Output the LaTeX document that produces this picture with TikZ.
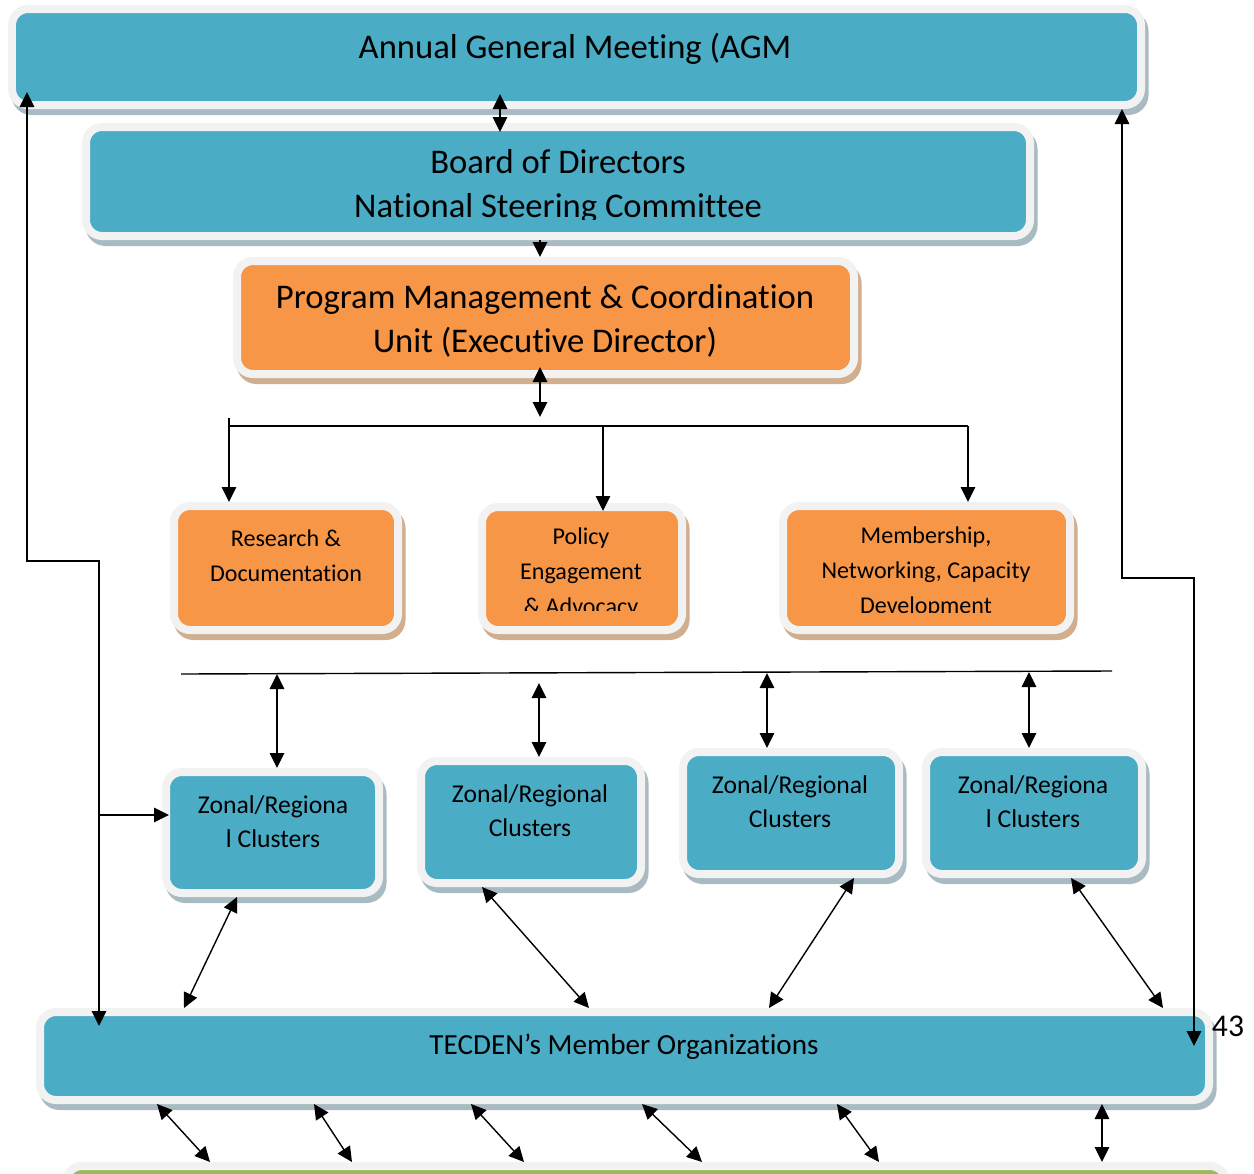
\documentclass[tikz,border=0pt]{standalone}
\usepackage{fontspec}
\setmainfont{Carlito}[Ligatures=NoCommon]
\usepackage{xcolor}
\usepackage{tikz}
\definecolor{orgBlue}{HTML}{4BACC6}
\definecolor{orgOrange}{HTML}{F79646}
\definecolor{orgGreen}{HTML}{9BBB59}
\definecolor{orgRim}{HTML}{F2F2F2}
\definecolor{orgShadeBlue}{HTML}{A9BBC2}
\definecolor{orgShadeOrange}{HTML}{D1AE90}
\usetikzlibrary{arrows.meta,calc}

\begin{document}
\begin{tikzpicture}[
  panel/.style={draw=orgRim, line width=0.16cm, rounded corners=0.32cm, inner sep=0pt},
  bluebox/.style={panel, fill=orgBlue, preaction={draw=orgShadeBlue, fill=orgShadeBlue, line width=0.16cm, transform canvas={shift={(0.07,-0.12)}}}},
  orangebox/.style={panel, fill=orgOrange, preaction={draw=orgShadeOrange, fill=orgShadeOrange, line width=0.16cm, transform canvas={shift={(0.07,-0.12)}}}},
  greenbox/.style={panel, fill=orgGreen},
  bigtext/.style={align=center, font=\fontsize{19.7}{25}\selectfont},
  midtext/.style={align=center, font=\fontsize{16.6}{21}\selectfont},
  smalltext/.style={align=center, font=\fontsize{13.7}{19.9}\selectfont},
  clustertext/.style={align=center, font=\fontsize{14.6}{19.3}\selectfont},
  link/.style={line width=0.8pt},
  arr/.style={link, -{Triangle[length=0.3cm, width=0.29cm]}},
  dbl/.style={link, {Triangle[length=0.3cm, width=0.29cm]}-{Triangle[length=0.3cm, width=0.29cm]}}
]
\useasboundingbox (0,0) rectangle (25.08,-23.46);

% Governance boxes
\node[bluebox, minimum width=22.58cm, minimum height=1.92cm] (agm) at (11.53,-1.14) {};
\node[bigtext] (agmtext) at (11.5,-0.97) {Annual General Meeting (AGM};
\node[bluebox, minimum width=18.88cm, minimum height=2.18cm] (board) at (11.16,-3.63) {};
\begin{scope}
  \clip (1.8,-2.62) rectangle (20.5,-4.38);
  \node[bigtext] (boardtext) at (11.16,-3.73) {Board of Directors\\National Steering Committee};
\end{scope}
\node[orangebox, minimum width=12.34cm, minimum height=2.26cm] (program) at (10.91,-6.35) {};
\node[bigtext] (programtext) at (10.9,-6.41) {Program Management \& Coordination\\Unit (Executive Director)};

% Program units
\node[orangebox, minimum width=4.48cm, minimum height=2.48cm] (research) at (5.72,-11.36) {};
\node[smalltext] (researchtext) at (5.72,-11.12) {Research \&\\Documentation};
\node[orangebox, minimum width=4.0cm, minimum height=2.46cm] (policy) at (11.64,-11.37) {};
\begin{scope}
  \clip (9.7,-10.2) rectangle (13.6,-12.2);
  \node[smalltext] (policytext) at (11.62,-11.47) {Policy\\Engagement\\\& Advocacy};
\end{scope}
\node[orangebox, minimum width=5.74cm, minimum height=2.48cm] (membership) at (18.53,-11.36) {};
\begin{scope}
  \clip (15.7,-10.2) rectangle (21.4,-12.24);
  \node[smalltext] (membershiptext) at (18.52,-11.45) {Membership,\\Networking, Capacity\\Development};
\end{scope}

% Zonal clusters
\node[bluebox, minimum width=4.26cm, minimum height=2.42cm] (c1) at (5.45,-16.65) {};
\node[clustertext] (c1text) at (5.46,-16.43) {Zonal/Regiona\\l Clusters};
\node[bluebox, minimum width=4.4cm, minimum height=2.44cm] (c2) at (10.62,-16.44) {};
\node[clustertext] (c2text) at (10.6,-16.22) {Zonal/Regional\\Clusters};
\node[bluebox, minimum width=4.32cm, minimum height=2.44cm] (c3) at (15.82,-16.26) {};
\node[clustertext] (c3text) at (15.8,-16.04) {Zonal/Regional\\Clusters};
\node[bluebox, minimum width=4.32cm, minimum height=2.44cm] (c4) at (20.68,-16.26) {};
\node[clustertext] (c4text) at (20.66,-16.04) {Zonal/Regiona\\l Clusters};

% Members and base
\node[bluebox, minimum width=23.38cm, minimum height=1.76cm] (members) at (12.49,-21.12) {};
\node[midtext] (memberstext) at (12.48,-20.93) {TECDEN’s Member Organizations};
\node[greenbox, minimum width=23.2cm, minimum height=2cm] (green) at (12.92,-24.32) {};
\node[font=\fontsize{18}{20}\selectfont] (pageno) at (24.56,-20.52) {43};

% Top links
\draw[dbl, shorten <=-0.3cm, shorten >=-0.18cm] (agm.south -| 10,0) -- (board.north -| 10,0);
\draw[arr] (board.south -| 10.8,0) -- (program.north -| 10.8,0);
\draw[dbl, shorten <=-0.22cm] (program.south -| 10.8,0) -- (10.8,-8.34);

% Unit bus
\coordinate (busA) at (4.56,-8.52);
\coordinate (busB) at (19.36,-8.52);
\draw[link] (busA) -- (busB);
\draw[arr] (4.58,-8.36) -- (research.north -| 4.58,0);
\draw[arr, shorten >=-0.16cm] (12.06,-8.52) -- (policy.north -| 12.06,0);
\draw[arr] (busB) -- (membership.north -| busB);

% Cluster bus
\coordinate (rowA) at (3.62,-13.48);
\coordinate (rowB) at (22.24,-13.42);
\draw[link] (rowA) -- (rowB);
\draw[dbl] (5.54,-13.48) -- (c1.north -| 5.54,0);
\draw[dbl] (10.78,-13.66) -- (c2.north -| 10.78,0);
\draw[dbl] (15.34,-13.46) -- (c3.north -| 15.34,0);
\draw[dbl] (20.58,-13.44) -- (c4.north -| 20.58,0);

% Clusters to members
\draw[dbl] (c1.south -| 4.74,0) -- (members.north -| 3.68,0);
\draw[dbl] (c2.south -| 9.64,0) -- (members.north -| 11.78,0);
\draw[dbl] (c3.south -| 17.08,0) -- (members.north -| 15.38,0);
\draw[dbl] (c4.south -| 21.42,0) -- (members.north -| 23.26,0);

% Members to base
\foreach \a/\b in {3.14/4.2, 6.28/7.04, 9.42/10.48, 12.84/14.04, 16.74/17.58, 22.04/22.04}
  \draw[dbl] (members.south -| \a,0) -- (green.north -| \b,0);

% Side loops
\draw[dbl, shorten <=-0.34cm, shorten >=-0.36cm] (agm.south -| 0.54,0) |- (1.98,-11.22) -- (members.north -| 1.98,0);
\coordinate (branch) at (1.98,-16.3);
\draw[arr, shorten >=-0.14cm] (branch) -- (c1.west |- branch);
\draw[dbl, shorten >=-0.76cm] (agm.south -| 22.44,0) |- (23.88,-11.56) -- (members.north -| 23.88,0);

\end{tikzpicture}
\end{document}
